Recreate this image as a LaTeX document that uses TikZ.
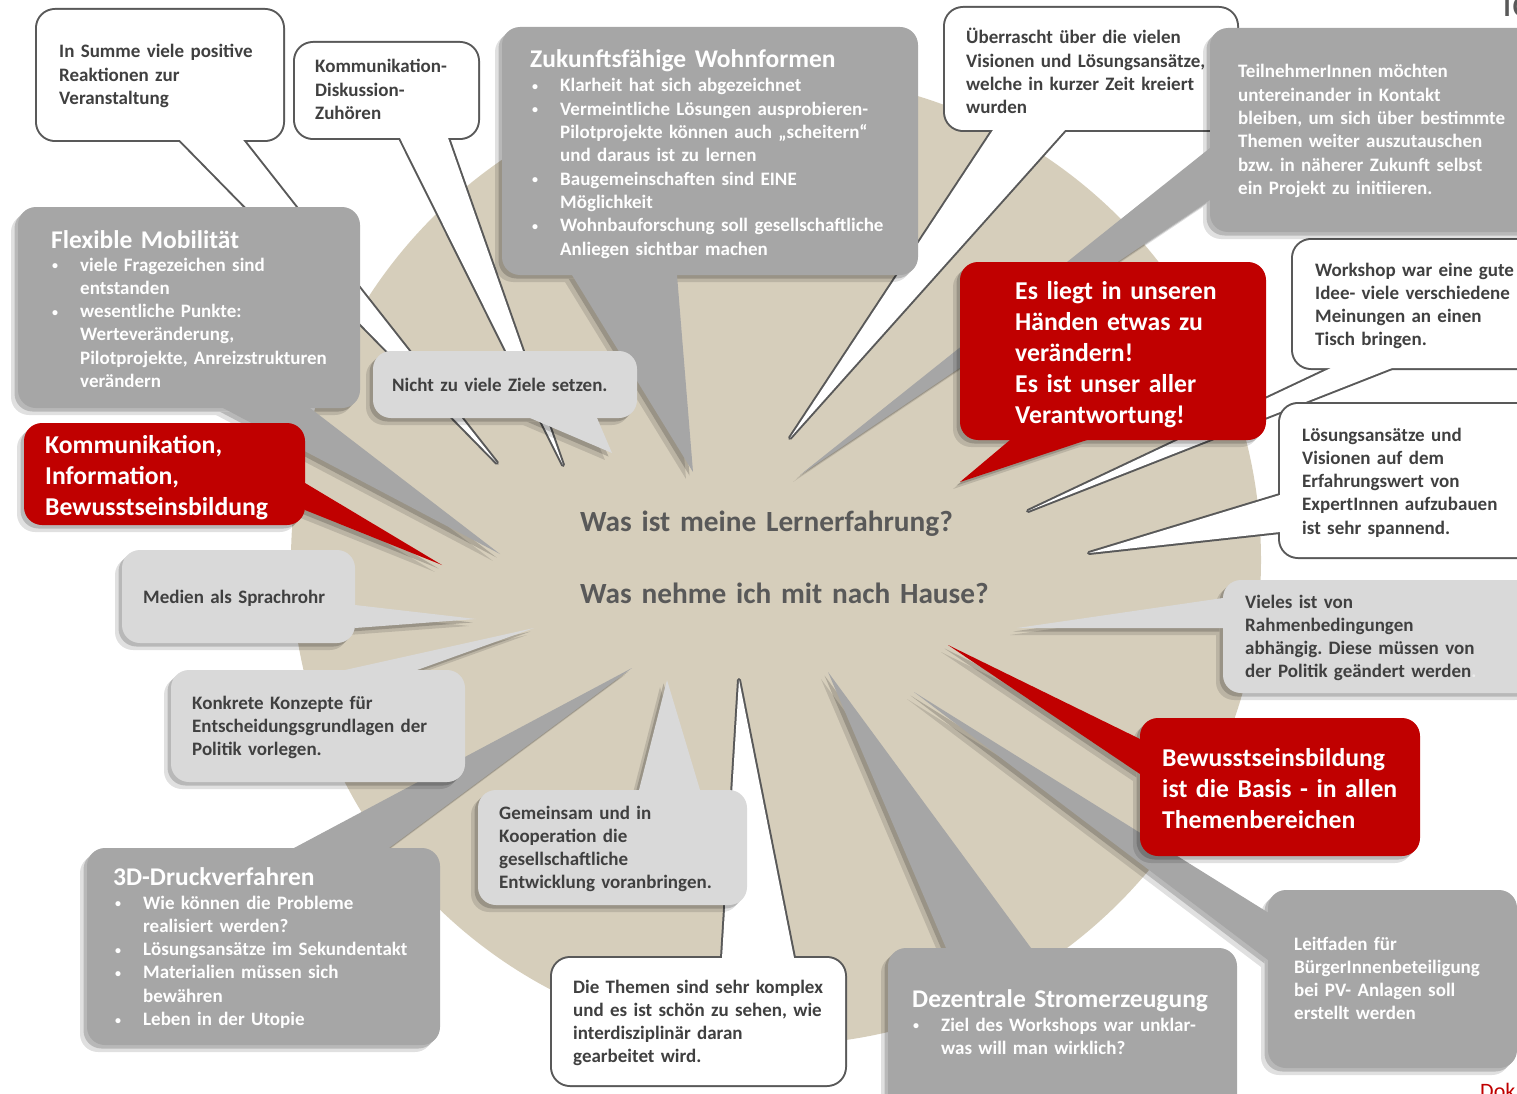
\documentclass[tikz,border=0pt]{standalone}
\usepackage{fontspec}
\setmainfont{Carlito}
\usetikzlibrary{positioning}

\definecolor{beige}{RGB}{214,206,187}
\definecolor{bubgray}{RGB}{166,166,166}
\definecolor{bublight}{RGB}{217,217,217}
\definecolor{bubred}{RGB}{192,0,0}
\definecolor{edge}{RGB}{89,89,89}
\definecolor{txtdark}{RGB}{64,64,64}
\definecolor{txtmid}{RGB}{89,89,89}

% white speech bubble: corner, corner, tail base, tail base, tip
\newcommand{\whitebub}[5]{%
  \draw[line width=4pt, draw=edge, rounded corners=18pt] #1 rectangle #2;
  \draw[line width=4pt, draw=edge, line join=round] #3 -- #5 -- #4 -- cycle;
  \fill[white, rounded corners=18pt] #1 rectangle #2;
  \fill[white] #3 -- #5 -- #4 -- cycle;
}
% filled speech bubble with shadow: colour, corner, corner, tail base, tail base, tip
\newcommand{\fillbub}[6]{%
  \begin{scope}[transparency group, opacity=.12, shift={(-7,7)}]
    \fill[black, rounded corners=18pt] #2 rectangle #3;
    \fill[black] #4 -- #6 -- #5 -- cycle;
  \end{scope}
  \begin{scope}[transparency group, opacity=.18, shift={(-3.5,3.5)}]
    \fill[black, rounded corners=18pt] #2 rectangle #3;
    \fill[black] #4 -- #6 -- #5 -- cycle;
  \end{scope}
  \fill[#1, rounded corners=18pt] #2 rectangle #3;
  \fill[#1] #4 -- #6 -- #5 -- cycle;
}
\newcommand{\bul}{\leavevmode\llap{\raisebox{1.5pt}{\fontsize{12}{12}\selectfont\textbullet}\hspace{22pt}}}

\tikzset{
  txt/.style={anchor=base west, inner sep=0pt, align=left, text width=420pt,
    font=\fontsize{19}{23.3}\selectfont\bfseries\frenchspacing},
  darktxt/.style={txt, text=txtdark},
  whitetxt/.style={txt, text=white},
  headtxt/.style={txt, text=white, font=\fontsize{25.5}{27}\selectfont\bfseries},
  redtxt/.style={txt, text=white, font=\fontsize{25.7}{31}\selectfont\bfseries},
  midtxt/.style={txt, text=txtmid, font=\fontsize{29.3}{31}\selectfont\bfseries}
}

\begin{document}
\begin{tikzpicture}[x=1pt,y=-1pt]
\useasboundingbox (0,0) rectangle (1517,1094);

% background disc
\fill[beige] (776,560) circle (485);

% white bubbles
\whitebub{(37,10)}{(283,140)}{(180,140)}{(243,140)}{(497,463)}
\whitebub{(295,43)}{(478,138)}{(400,138)}{(448,138)}{(563,465)}
\whitebub{(945,8)}{(1237,130)}{(993,130)}{(1065,130)}{(790,438)}
\whitebub{(1293,240)}{(1540,368)}{(1331,368)}{(1392,368)}{(1028,511)}
\whitebub{(1280,404)}{(1540,557)}{(1280,495)}{(1280,532)}{(1089,553)}
\whitebub{(552,958)}{(845,1085)}{(722,958)}{(794,958)}{(739,680)}

% gray bubbles
\fillbub{bubgray}{(18,207)}{(360,408)}{(223,408)}{(310,408)}{(500,554)}
\fillbub{bubgray}{(502,27)}{(918,275)}{(572,275)}{(677,275)}{(693,472)}
\fillbub{bubgray}{(1210,28)}{(1540,232)}{(1210,148)}{(1210,200)}{(800,475)}
\fillbub{bubgray}{(87,848)}{(440,1045)}{(294,848)}{(389,848)}{(632,668)}
\fillbub{bubgray}{(888,948)}{(1237,1120)}{(946,948)}{(1031,948)}{(828,672)}
\fillbub{bubgray}{(1268,890)}{(1517,1068)}{(1272,915)}{(1268,960)}{(914,692)}

% light bubbles
\fillbub{bublight}{(373,351)}{(637,418)}{(530,418)}{(597,418)}{(612,453)}
\fillbub{bublight}{(122,550)}{(355,643)}{(355,605)}{(355,628)}{(476,619)}
\fillbub{bublight}{(171,670)}{(465,782)}{(345,670)}{(417,670)}{(534,628)}
\fillbub{bublight}{(478,790)}{(747,905)}{(639,790)}{(700,790)}{(667,680)}
\fillbub{bublight}{(1223,580)}{(1540,693)}{(1223,598)}{(1223,628)}{(1017,628)}

% red bubbles
\fillbub{bubred}{(960,262)}{(1266,440)}{(1010,440)}{(1087,440)}{(960,482)}
\fillbub{bubred}{(24,423)}{(305,525)}{(305,483)}{(305,510)}{(442,565)}
\fillbub{bubred}{(1140,718)}{(1420,856)}{(1140,739)}{(1140,774)}{(948,645)}

% texts
\node[darktxt] (summe) at (59,58) {In Summe viele positive\\Reaktionen zur\\Veranstaltung};
\node[darktxt] (kommdisk) at (315,73) {Kommunikation-\\Diskussion-\\Zuhören};
\node[headtxt] (wohnen) at (530,68) {Zukunftsfähige Wohnformen};
\node[whitetxt] (wohnen-list) at (560,92) {\bul Klarheit hat sich abgezeichnet\\
  \bul Vermeintliche Lösungen ausprobieren-\\Pilotprojekte können auch „scheitern“\\und daraus ist zu lernen\\
  \bul Baugemeinschaften sind EINE\\Möglichkeit\\
  \bul Wohnbauforschung soll gesellschaftliche\\Anliegen sichtbar machen};
\node[darktxt] (ueberrascht) at (966,44) {Überrascht über die vielen\\Visionen und Lösungsansätze,\\welche in kurzer Zeit kreiert\\wurden};
\node[whitetxt] (kontakt) at (1238,78) {TeilnehmerInnen möchten\\untereinander in Kontakt\\bleiben, um sich über bestimmte\\Themen weiter auszutauschen\\bzw. in näherer Zukunft selbst\\ein Projekt zu initiieren.};
\node[headtxt] (mobil) at (51,248) {Flexible Mobilität};
\node[whitetxt] (mobil-list) at (80,271) {\bul viele Fragezeichen sind\\entstanden\\
  \bul wesentliche Punkte:\\Werteveränderung,\\Pilotprojekte, Anreizstrukturen\\verändern};
\node[darktxt] (workshop) at (1315,276) {Workshop war eine gute\\Idee- viele verschiedene\\Meinungen an einen\\Tisch bringen.};
\node[redtxt] (haende) at (1015,299) {Es liegt in unseren\\Händen etwas zu\\verändern!\\Es ist unser aller\\Verantwortung!};
\node[darktxt] (ziele) at (392,391) {Nicht zu viele Ziele setzen.};
\node[darktxt] (experten) at (1302,441) {Lösungsansätze und\\Visionen auf dem\\Erfahrungswert von\\ExpertInnen aufzubauen\\ist sehr spannend.};
\node[redtxt] (info) at (45,453) {Kommunikation,\\Information,\\Bewusstseinsbildung};
\node[midtxt] (frage1) at (580,531) {Was ist meine Lernerfahrung?};
\node[midtxt] (frage2) at (580,603) {Was nehme ich mit nach Hause?};
\node[darktxt] (medien) at (143,603) {Medien als Sprachrohr};
\node[darktxt] (rahmen) at (1245,608) {Vieles ist von\\Rahmenbedingungen\\abhängig. Diese müssen von\\der Politik geändert werden{\color{white!85!gray}.}};
\node[darktxt] (konzepte) at (192,709) {Konkrete Konzepte für\\Entscheidungsgrundlagen der\\Politik vorlegen.};
\node[redtxt] (basis) at (1162,766) {Bewusstseinsbildung\\ist die Basis - in allen\\Themenbereichen};
\node[darktxt] (gemeinsam) at (499,819) {Gemeinsam und in\\Kooperation die\\gesellschaftliche\\Entwicklung voranbringen.};
\node[headtxt] (druck) at (113,885) {3D-Druckverfahren};
\node[whitetxt] (druck-list) at (143,909) {\bul Wie können die Probleme\\realisiert werden?\\
  \bul Lösungsansätze im Sekundentakt\\
  \bul Materialien müssen sich\\bewähren\\
  \bul Leben in der Utopie};
\node[whitetxt] (leitfaden) at (1294,950) {Leitfaden für\\BürgerInnenbeteiligung\\bei PV- Anlagen soll\\erstellt werden};
\node[darktxt] (themen) at (573,993) {Die Themen sind sehr komplex\\und es ist schön zu sehen, wie\\interdisziplinär daran\\gearbeitet wird.};
\node[headtxt] (strom) at (912,1007) {Dezentrale Stromerzeugung};
\node[whitetxt] (strom-list) at (941,1031) {\bul Ziel des Workshops war unklar-\\was will man wirklich?};

% cut-off page texts
\node[anchor=base west, inner sep=0pt, text=txtmid, font=\fontsize{40}{40}\selectfont] (kopf) at (1502,17) {Ic};
\node[anchor=base west, inner sep=0pt, text=bubred, font=\fontsize{22}{22}\selectfont] (fuss) at (1480,1098) {Dok};
\end{tikzpicture}
\end{document}
